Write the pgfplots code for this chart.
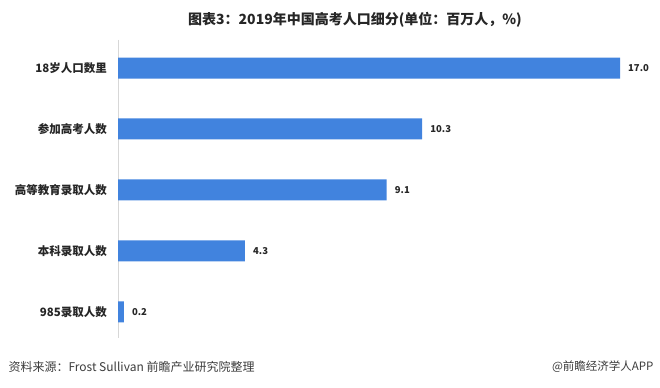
\documentclass[border=0pt]{standalone}
\usepackage{pgfplots}
\pgfplotsset{compat=1.18}
\usepackage{fontspec}
\setmainfont{Liberation Sans}
\newfontfamily\cjk{Noto Sans CJK SC}
\definecolor{barblue}{RGB}{65,131,222}
\definecolor{axgray}{RGB}{215,215,215}
\definecolor{foot}{RGB}{60,60,60}
\begin{document}
\begin{tikzpicture}[x=1bp,y=1bp]
\path[use as bounding box] (0,0) rectangle (660,387);
\node[font=\cjk\bfseries\fontsize{14bp}{14bp}\selectfont, text=black!85] at (355,367) {图表3：2019年中国高考人口细分(单位：百万人，\%)};
\begin{axis}[
  at={(118bp,49bp)}, anchor=south west,
  scale only axis, width=502bp, height=298bp,
  xbar, bar width=21bp,
  xmin=0, xmax=17,
  ymin=-0.46, ymax=4.43, y dir=reverse,
  axis x line=none,
  axis y line*=left,
  y axis line style={draw=axgray, line width=0.8bp, -},
  major tick length=0,
  ytick={0,1,2,3,4},
  yticklabels={18岁人口数里,参加高考人数,高等教育录取人数,本科录取人数,985录取人数},
  yticklabel style={font=\cjk\bfseries\fontsize{11.5bp}{11.5bp}\selectfont, text=black!85, inner sep=0pt, xshift=-11bp},
  nodes near coords={\pgfmathprintnumber[fixed,fixed zerofill,precision=1,assume math mode=true]{\pgfplotspointmeta}},
  nodes near coords style={font=\cjk\bfseries\fontsize{9.5bp}{9.5bp}\selectfont, text=black!85, anchor=west, inner sep=0pt, xshift=8bp},
  clip=false,
]
\addplot[fill=barblue, draw=none] coordinates {(17.0,0) (10.3,1) (9.1,2) (4.3,3) (0.2,4)};
\end{axis}
\node[anchor=west, font=\cjk\fontsize{12bp}{12bp}\selectfont, text=foot] at (5,20) {资料来源：Frost Sullivan 前瞻产业研究院整理};
\node[anchor=east, font=\cjk\fontsize{11.5bp}{11.5bp}\selectfont, text=foot] at (657,20) {@前瞻经济学人APP};
\end{tikzpicture}
\end{document}
